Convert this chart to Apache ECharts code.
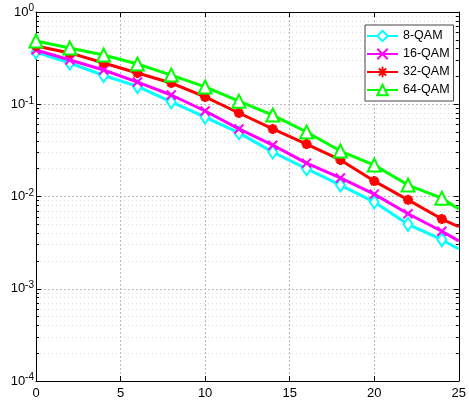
<!DOCTYPE html>
<html><head><meta charset="utf-8">
<script src="https://cdn.jsdelivr.net/npm/echarts@6/dist/echarts.min.js"></script>
<style>html,body{margin:0;padding:0;background:#fff}#c{width:469px;height:403px}</style>
</head><body><div id="c"></div>
<script>
const snr = [0, 2, 4, 6, 8, 10, 12, 14, 16, 18, 20, 22, 24, 25];
const qam8  = [0.368, 0.28, 0.205, 0.156, 0.106, 0.0727, 0.049, 0.0303, 0.02, 0.0133, 0.0087, 0.005, 0.0034, 0.0027];
const qam16 = [0.387, 0.302, 0.235, 0.174, 0.126, 0.0845, 0.054, 0.036, 0.023, 0.0159, 0.0106, 0.0065, 0.0042, 0.0033];
const qam32 = [0.428, 0.36, 0.28, 0.218, 0.17, 0.12, 0.0804, 0.054, 0.037, 0.0249, 0.0147, 0.0092, 0.0057, 0.0047];
const qam64 = [0.485, 0.407, 0.342, 0.273, 0.207, 0.154, 0.108, 0.0764, 0.05, 0.0311, 0.0219, 0.0133, 0.0096, 0.0073];
const names = ['8-QAM', '16-QAM', '32-QAM', '64-QAM'];
const colors = ['#00ffff', '#ff00ff', '#ff0000', '#00ff00'];

const symX = 'path://M0,0L10,10M10,0L0,10';
const symStar = 'path://M5,0L5,10M0,5L10,5M1.5,1.5L8.5,8.5M8.5,1.5L1.5,8.5';
const symbols = ['emptyDiamond', symX, symStar, 'emptyTriangle'];
const sizes = [[9, 13], 9, 10, 13];
const allData = [qam8, qam16, qam32, qam64];

function mk(i) {
  const d = snr.map((x, k) => {
    const item = { value: [x, allData[i][k]] };
    if (x === 25) item.symbol = 'none';
    return item;
  });
  return {
    name: names[i], type: 'line', data: d,
    symbol: symbols[i], symbolSize: sizes[i], showAllSymbol: true,
    lineStyle: { color: colors[i], width: 3 },
    itemStyle: { color: colors[i], borderColor: colors[i], borderWidth: i === 2 ? 3 : 2 },
    emphasis: { disabled: true }, z: 3 + i
  };
}

const fontFamily = 'Liberation Sans, Arial, sans-serif';
const chart = echarts.init(document.getElementById('c'), null, { renderer: 'canvas' });
chart.setOption({
  animation: false,
  backgroundColor: '#fff',
  grid: { left: 36, right: 6, top: 12, bottom: 22, show: false },
  legend: {
    data: names, orient: 'vertical', left: 365, top: 25,
    backgroundColor: '#fff', borderColor: '#444', borderWidth: 1,
    padding: [4, 4, 4, 1], itemGap: 4, itemWidth: 31, itemHeight: 13,
    textStyle: { fontFamily, fontSize: 12.5, color: '#000', lineHeight: 14 }
  },
  xAxis: [{
    type: 'value', min: 0, max: 25, interval: 5, position: 'bottom',
    axisLine: { show: true, lineStyle: { color: '#000', width: 1 } },
    axisTick: { show: true, inside: true, length: 5, lineStyle: { color: '#000' } },
    axisLabel: { color: '#000', fontFamily, fontSize: 13, margin: 6 },
    splitLine: { show: true, lineStyle: { color: '#bbb', type: [2, 2], width: 1 } }
  }, {
    type: 'value', min: 0, max: 25, interval: 5, position: 'top',
    axisLine: { show: true, onZero: false, lineStyle: { color: '#000', width: 1 } },
    axisTick: { show: true, inside: true, length: 5, lineStyle: { color: '#000' } },
    axisLabel: { show: false }, splitLine: { show: false }
  }],
  yAxis: [{
    type: 'log', logBase: 10, min: 1e-4, max: 1, position: 'left',
    axisLine: { show: true, onZero: false, lineStyle: { color: '#000', width: 1 } },
    axisTick: { show: true, inside: true, length: 5, lineStyle: { color: '#000' } },
    minorTick: { show: true, splitNumber: 9, length: 3, lineStyle: { color: '#000' } },
    minorSplitLine: { show: true, lineStyle: { color: '#ddd', type: [1, 3] } },
    axisLabel: {
      fontFamily, margin: 2,
      formatter: v => '{b|10}{s|' + Math.round(Math.log10(v)) + '}',
      rich: {
        b: { fontSize: 13, color: '#000', fontFamily },
        s: { fontSize: 10, color: '#000', fontFamily, verticalAlign: 'top', padding: [0, 0, 7, 0] }
      }
    },
    splitLine: { show: true, lineStyle: { color: '#bbb', type: [2, 2], width: 1 } }
  }, {
    type: 'log', logBase: 10, min: 1e-4, max: 1, position: 'right',
    axisLine: { show: true, onZero: false, lineStyle: { color: '#000', width: 1 } },
    axisTick: { show: true, inside: true, length: 5, lineStyle: { color: '#000' } },
    minorTick: { show: true, splitNumber: 9, length: 3, lineStyle: { color: '#000' } },
    axisLabel: { show: false }, splitLine: { show: false }
  }],
  series: [0, 1, 2, 3].map(mk)
});
</script></body></html>
